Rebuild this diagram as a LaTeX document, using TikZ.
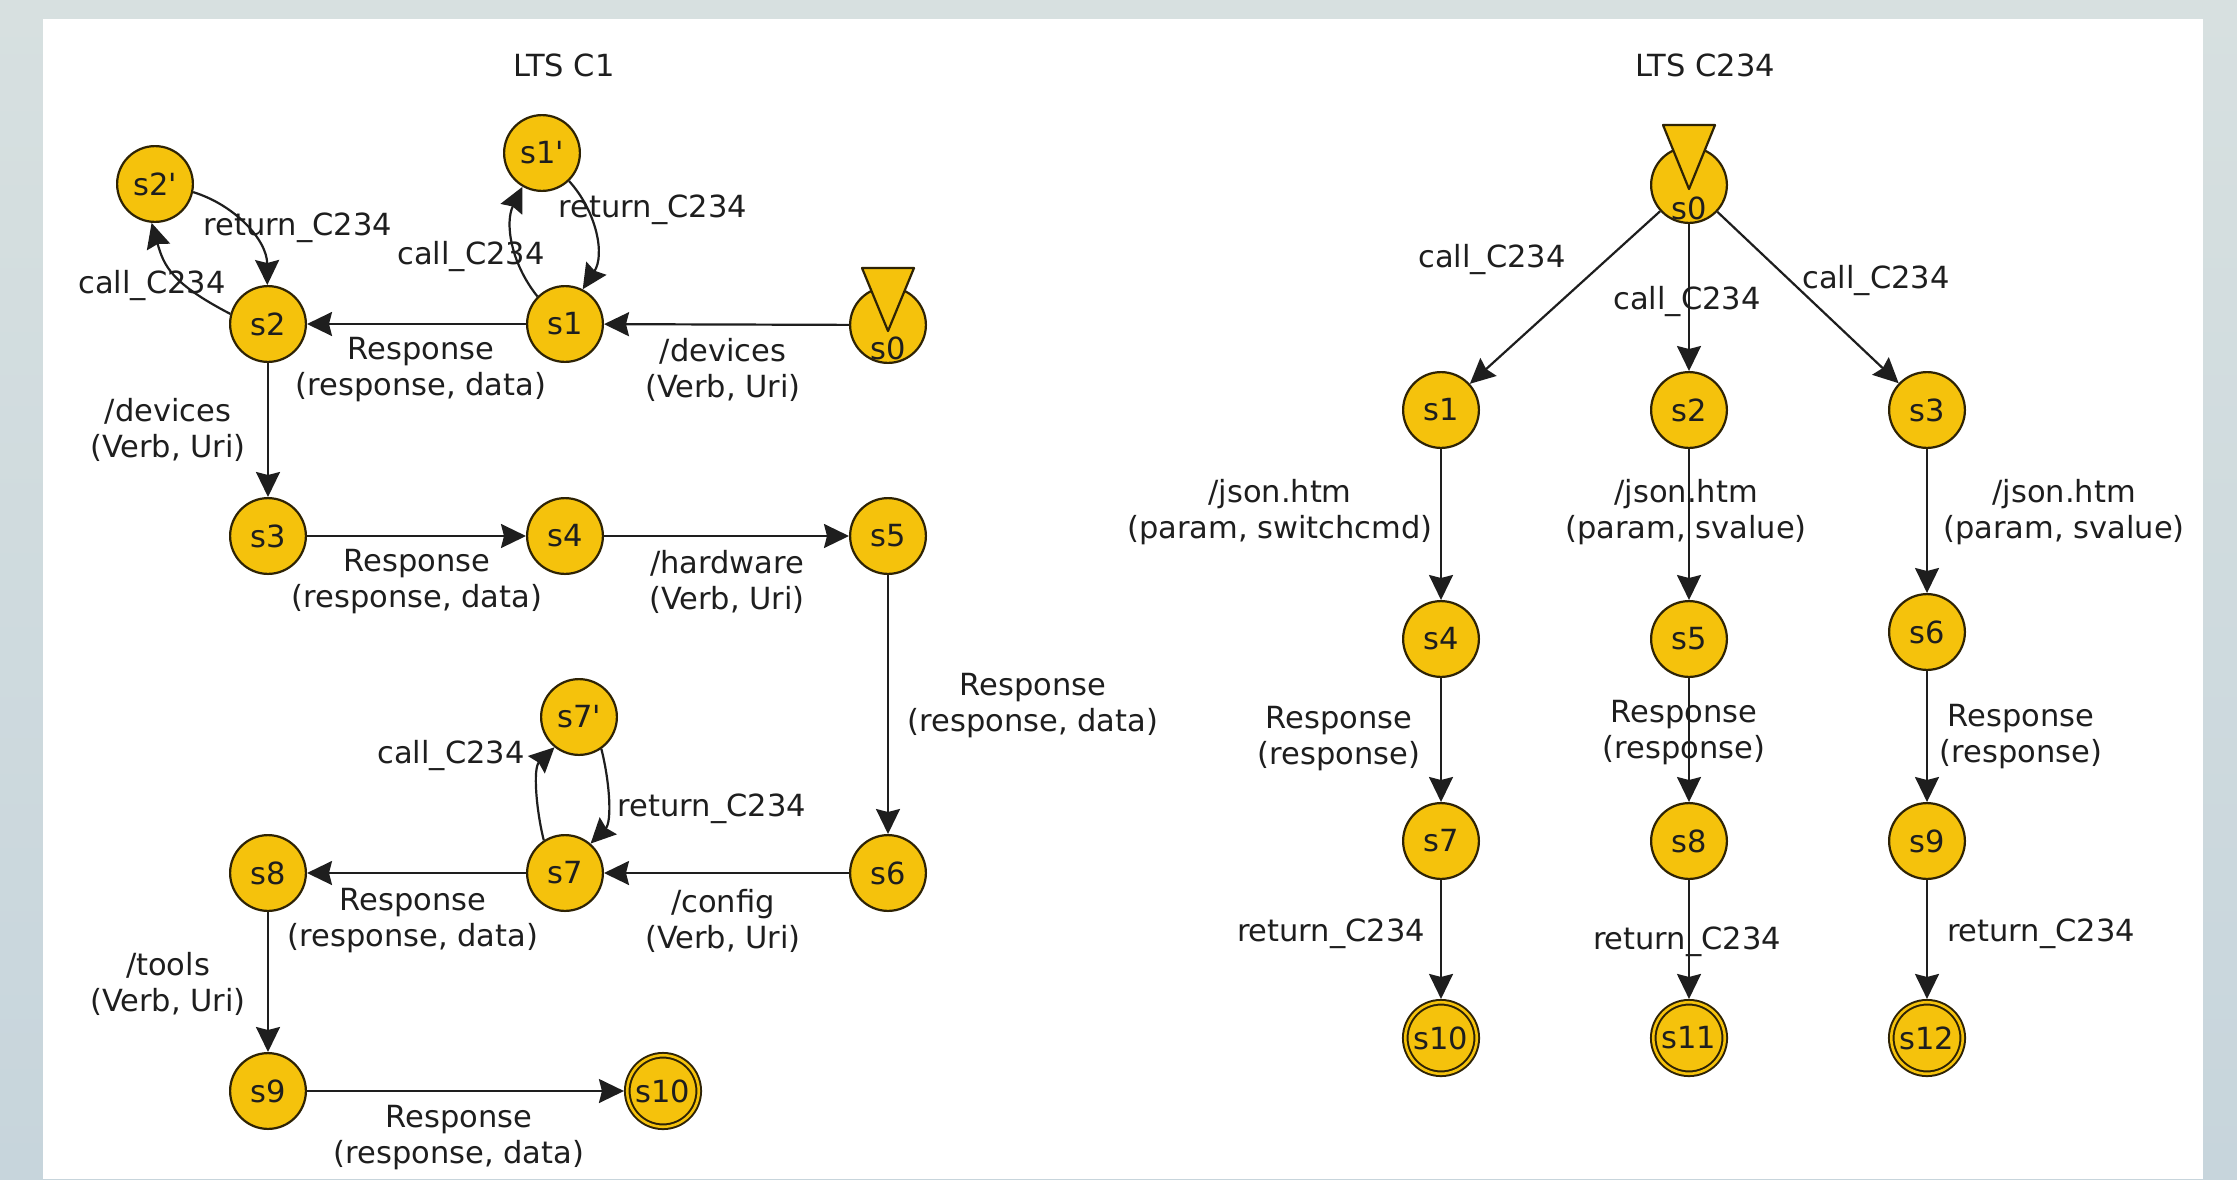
\documentclass[tikz,border=0pt]{standalone}
\usepackage{fontspec}
\newfontfamily\dvs{DejaVu Sans}
\usetikzlibrary{arrows.meta}
\definecolor{stategold}{HTML}{F5C20C}
\definecolor{stateline}{HTML}{2E2305}
\definecolor{inkc}{HTML}{1E1E1E}
\definecolor{bgtop}{HTML}{D7E0E0}
\definecolor{bgbot}{HTML}{C7D5DC}

\begin{document}
\begin{tikzpicture}[x=1pt,y=-1pt,
  every node/.style={font=\dvs\fontsize{30.5}{36}\selectfont, text=inkc},
  stnode/.style={circle, draw=stateline, fill=stategold, line width=2.2pt,
                 minimum size=75.8pt, inner sep=0pt},
  stfinal/.style={circle, draw=stateline, fill=stategold, line width=2pt,
                  double=stategold, double distance=2.6pt,
                  minimum size=71.5pt, inner sep=0pt, outer sep=3.3pt},
  lbl/.style={align=center, inner sep=0pt},
  trans/.style={draw=inkc, line width=2.2pt,
                -{Stealth[length=25pt,width=24pt,inset=3pt]}},
  initmark/.style={fill=stategold, draw=stateline, line width=2.2pt, line join=round},
  ]
\useasboundingbox (0,0) rectangle (2237,1179);
\shade[top color=bgtop, bottom color=bgbot] (0,0) rectangle (2237,1179);
\fill[white] (43,19) rectangle (2203,1179);

% ---------------- LTS C1 ----------------
\node (t1) at (564,65) {LTS C1};

\node[stnode] (as0) at (888,325) {};
\filldraw[initmark] ([shift={(-26,-57)}]as0.center) -- ([shift={(26,-57)}]as0.center)
  -- ([shift={(0,6)}]as0.center) -- cycle;
\node (as0t) at (888,348) {s0};

\node[stnode] (as1)  at (565,324)  {s1};
\node[stnode] (as2)  at (268,324)  {s2};
\node[stnode] (as1p) at (542,153)  {s1'};
\node[stnode] (as2p) at (155,184)  {s2'};
\node[stnode] (as3)  at (268,536)  {s3};
\node[stnode] (as4)  at (565,536)  {s4};
\node[stnode] (as5)  at (888,536)  {s5};
\node[stnode] (as6)  at (888,873)  {s6};
\node[stnode] (as7)  at (565,873)  {s7};
\node[stnode] (as7p) at (579,717)  {s7'};
\node[stnode] (as8)  at (268,873)  {s8};
\node[stnode] (as9)  at (268,1091) {s9};
\node[stfinal] (as10) at (663,1091) {s10};

\draw[trans] (as0) -- (as1);
\draw[trans] (as1) -- (as2);
\draw[trans] (as2) -- (as3);
\draw[trans] (as3) -- (as4);
\draw[trans] (as4) -- (as5);
\draw[trans] (as5) -- (as6);
\draw[trans] (as6) -- (as7);
\draw[trans] (as7) -- (as8);
\draw[trans] (as8) -- (as9);
\draw[trans] (as9) -- (as10);

% call / return loops
\draw[trans] (as2.165) .. controls (171,283) and (164,266) .. (as2p.265);
\draw[trans] (as2p.-12) .. controls (235,205) and (267,240) .. (as2.91);
\draw[trans] (as1.135) .. controls (510,262) and (505,222) .. (as1p.240);
\draw[trans] (as1p.-46) .. controls (597,212) and (605,255) .. (as1.63);
\draw[trans] (as7.123) .. controls (536,809) and (533,768) .. (as7p.231);
\draw[trans] (as7p.-55) .. controls (610,783) and (612,822) .. (as7.49);

\node[lbl] (la1)  at (298,228) {return\_C234};
\node[lbl] (la2)  at (152,286) {call\_C234};
\node[lbl] (la3)  at (471,257) {call\_C234};
\node[lbl] (la4)  at (653,210) {return\_C234};
\node[lbl] (la5)  at (421,370) {Response\\(response, data)};
\node[lbl] (la6)  at (723,370) {/devices\\(Verb, Uri)};
\node[lbl] (la7)  at (168,430) {/devices\\(Verb, Uri)};
\node[lbl] (la8)  at (417,582) {Response\\(response, data)};
\node[lbl] (la9)  at (727,582) {/hardware\\(Verb, Uri)};
\node[lbl] (la10) at (1033,706) {Response\\(response, data)};
\node[lbl] (la11) at (451,755) {call\_C234};
\node[lbl] (la12) at (712,809) {return\_C234};
\node[lbl] (la13) at (413,921) {Response\\(response, data)};
\node[lbl] (la14) at (723,921) {/config\\(Verb, Uri)};
\node[lbl] (la15) at (168,984) {/tools\\(Verb, Uri)};
\node[lbl] (la16) at (459,1138) {Response\\(response, data)};

% ---------------- LTS C234 ----------------
\node (t2) at (1705,65) {LTS C234};

\node[stnode] (bs0) at (1689,185) {};
\filldraw[initmark] ([shift={(-26,-60)}]bs0.center) -- ([shift={(26,-60)}]bs0.center)
  -- ([shift={(0,4)}]bs0.center) -- cycle;
\node (bs0t) at (1689,208) {s0};

\node[stnode] (bs1) at (1441,410) {s1};
\node[stnode] (bs2) at (1689,410) {s2};
\node[stnode] (bs3) at (1927,410) {s3};
\node[stnode] (bs4) at (1441,639) {s4};
\node[stnode] (bs5) at (1689,639) {s5};
\node[stnode] (bs6) at (1927,632) {s6};
\node[stnode] (bs7) at (1441,841) {s7};
\node[stnode] (bs8) at (1689,841) {s8};
\node[stnode] (bs9) at (1927,841) {s9};
\node[stfinal] (bs10) at (1441,1038) {s10};
\node[stfinal] (bs11) at (1689,1038) {s11};
\node[stfinal] (bs12) at (1927,1038) {s12};

\draw[trans] (bs0) -- (bs1);
\draw[trans] (bs0) -- (bs2);
\draw[trans] (bs0) -- (bs3);
\draw[trans] (bs1) -- (bs4);
\draw[trans] (bs2) -- (bs5);
\draw[trans] (bs3) -- (bs6);
\draw[trans] (bs4) -- (bs7);
\draw[trans] (bs5) -- (bs8);
\draw[trans] (bs6) -- (bs9);
\draw[trans] (bs7) -- (bs10);
\draw[trans] (bs8) -- (bs11);
\draw[trans] (bs9) -- (bs12);

\node[lbl] (lb1)  at (1492,260) {call\_C234};
\node[lbl] (lb2)  at (1687,302) {call\_C234};
\node[lbl] (lb3)  at (1876,281) {call\_C234};
\node[lbl] (lb4)  at (1280,512) {/json.htm\\(param, switchcmd)};
\node[lbl] (lb5)  at (1686,512) {/json.htm\\(param, svalue)};
\node[lbl] (lb6)  at (2064,512) {/json.htm\\(param, svalue)};
\node[lbl] (lb7)  at (1339,739) {Response\\(response)};
\node[lbl] (lb8)  at (1684,733) {Response\\(response)};
\node[lbl] (lb9)  at (2021,737) {Response\\(response)};
\node[lbl] (lb10) at (1331,934) {return\_C234};
\node[lbl] (lb11) at (1687,942) {return\_C234};
\node[lbl] (lb12) at (2041,934) {return\_C234};
\end{tikzpicture}
\end{document}
